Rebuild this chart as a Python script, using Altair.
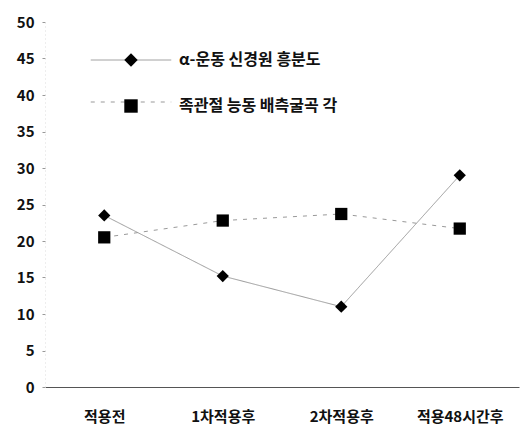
import altair as alt
import pandas as pd

categories = ["적용전", "1차적용후", "2차적용후", "적용48시간후"]
series_names = ["α-운동 신경원 흥분도", "족관절 능동 배측굴곡 각"]
alpha_values = [23.5, 15.2, 11.0, 29.0]
angle_values = [20.5, 22.8, 23.7, 21.7]
y_ticks = [0, 5, 10, 15, 20, 25, 30, 35, 40, 45, 50]

rows = []
for c, a, b in zip(categories, alpha_values, angle_values):
    rows.append({"cat": c, "series": series_names[0], "dash": series_names[0], "value": a})
    rows.append({"cat": c, "series": series_names[1], "dash": series_names[1], "value": b})
df = pd.DataFrame(rows)

FONT = "Noto Sans CJK KR"

x = alt.X(
    "cat:N",
    sort=categories,
    scale=alt.Scale(type="point", padding=0.5),
    axis=alt.Axis(
        title=None, labelAngle=0, ticks=False, labelPadding=22,
        labelFontSize=15, labelFontWeight="bold", labelFont=FONT,
        labelColor="#111", domainColor="#555", domainWidth=1,
    ),
)
y = alt.Y(
    "value:Q",
    scale=alt.Scale(domain=[0, 50], nice=False),
    axis=alt.Axis(
        values=y_ticks, title=None, grid=False, tickSize=3, tickColor="#999",
        labelPadding=8, labelFontSize=15, labelFontWeight="bold", labelFont=FONT,
        labelColor="#111", domainColor="#ddd", domainDash=[1, 3],
    ),
)

common_legend = dict(
    title=None, orient="none", legendX=78, legendY=30, padding=0,
    symbolSize=180, labelFontSize=16, labelFontWeight="bold", labelFont=FONT,
    labelOffset=40, rowPadding=26,
)

lines = alt.Chart(df).mark_line(color="#999", strokeWidth=1).encode(
    x=x, y=y,
    detail="series:N",
    strokeDash=alt.StrokeDash(
        "dash:N",
        scale=alt.Scale(domain=series_names, range=[[1, 0], [4, 6]]),
        legend=alt.Legend(
            symbolType="M-6,0L6,0", symbolStrokeColor="#999", symbolStrokeWidth=1,
            labelExpr="''", zindex=0, **common_legend,
        ),
    ),
)

points = alt.Chart(df).mark_point(filled=True, color="black", opacity=1, size=150).encode(
    x=x, y=y,
    shape=alt.Shape(
        "series:N",
        scale=alt.Scale(domain=series_names, range=["diamond", "square"]),
        legend=alt.Legend(
            symbolFillColor="black", symbolStrokeColor="black",
            labelColor="#111", zindex=1, **common_legend,
        ),
    ),
)

chart = (
    alt.layer(lines, points)
    .resolve_legend(shape="independent", strokeDash="independent")
    .properties(
        width=474, height=365,
        autosize=alt.AutoSizeParams(type="none"),
        padding={"left": 45, "top": 22, "right": 2, "bottom": 41},
        background="white",
    )
    .configure_view(stroke=None)
)

chart.save("out.html", embed_options={"renderer": "svg", "actions": False})
